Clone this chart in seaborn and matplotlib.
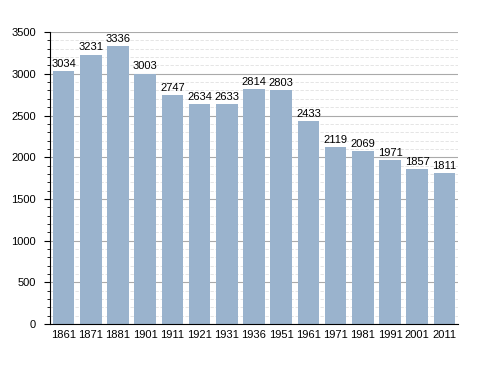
import matplotlib.pyplot as plt
import seaborn as sns
import pandas as pd
from matplotlib.ticker import MultipleLocator

years = ["1861", "1871", "1881", "1901", "1911", "1921", "1931", "1936",
         "1951", "1961", "1971", "1981", "1991", "2001", "2011"]
population = [3034, 3231, 3336, 3003, 2747, 2634, 2633, 2814,
              2803, 2433, 2119, 2069, 1971, 1857, 1811]

sns.set_style("white")
plt.rcParams['font.family'] = ['Liberation Sans', 'DejaVu Sans']
plt.rcParams['font.size'] = 8
plt.rcParams['text.color'] = 'black'
plt.rcParams['xtick.color'] = 'black'
plt.rcParams['ytick.color'] = 'black'

df = pd.DataFrame({"year": years, "pop": population})

fig = plt.figure(figsize=(4.88, 3.73), dpi=100)
ax = fig.add_axes([0.1025, 0.131, 0.836, 0.783])

ax.yaxis.set_major_locator(MultipleLocator(500))
ax.yaxis.set_minor_locator(MultipleLocator(100))
ax.grid(which='major', axis='y', color='#aaaaaa', linewidth=0.8, zorder=0)
ax.grid(which='minor', axis='y', color='#e0e0e0', linewidth=0.6, linestyle=(0, (4, 2)), zorder=0)
ax.set_axisbelow(True)

sns.barplot(data=df, x="year", y="pop", color='#9ab3cd', saturation=1,
            width=0.8, ax=ax, zorder=2, linewidth=0)

for i, v in enumerate(population):
    ax.text(i, v + 25, str(v), ha='center', va='bottom', fontsize=8)

ax.set_ylim(0, 3500)
ax.set_xlim(-0.5, len(years) - 0.5)
ax.set_xlabel('')
ax.set_ylabel('')
for s in ['top', 'right']:
    ax.spines[s].set_visible(False)
ax.spines['left'].set_color('black')
ax.spines['bottom'].set_color('black')
ax.spines['left'].set_linewidth(0.8)
ax.spines['bottom'].set_linewidth(0.8)
ax.tick_params(axis='y', which='major', left=True, length=4, width=0.8, pad=6)
ax.tick_params(axis='y', which='minor', left=True, length=2, width=0.6)
ax.tick_params(axis='x', bottom=False, pad=1)

fig.savefig("out.png", dpi=100)
